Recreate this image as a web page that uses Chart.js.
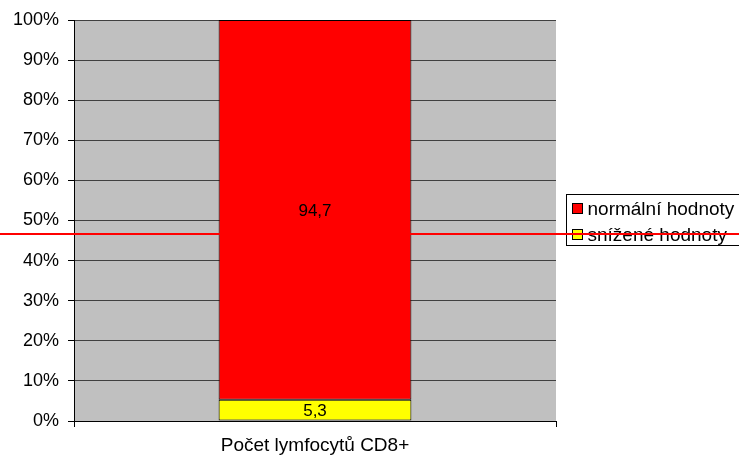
<!DOCTYPE html>
<html>
<head>
<meta charset="utf-8">
<script src="https://cdn.jsdelivr.net/npm/chart.js@4/dist/chart.umd.min.js"></script>
<style>
  html, body { margin: 0; padding: 0; background: #ffffff; }
  #wrap { width: 739px; height: 457px; position: relative; }
</style>
</head>
<body>
<div id="wrap"><canvas id="c" width="739" height="457"></canvas></div>
<script>
// Share of CD8+ lymphocyte counts, as a 100% stacked column
const categories = ['Počet lymfocytů CD8+'];
const seriesNames = ['snížené hodnoty', 'normální hodnoty'];
const lowValues = [5.3];
const normalValues = [94.7];
const seriesColors = ['#FFFF00', '#FF0000'];
const yTicks = [0, 10, 20, 30, 40, 50, 60, 70, 80, 90, 100];
const markerLevel = [46.6];

const FONT = 'Arial, "Liberation Sans", sans-serif';

// gray plot background
const plotBackground = {
  id: 'plotBackground',
  beforeDraw(chart) {
    const { ctx, chartArea: a } = chart;
    ctx.save();
    ctx.fillStyle = '#C0C0C0';
    ctx.fillRect(a.left, a.top, a.right - a.left, a.bottom - a.top);
    ctx.restore();
  }
};

// value labels centred in each segment
const segmentLabels = {
  id: 'segmentLabels',
  afterDatasetsDraw(chart) {
    const { ctx } = chart;
    ctx.save();
    ctx.font = '17px ' + FONT;
    ctx.fillStyle = '#000000';
    ctx.textAlign = 'center';
    ctx.textBaseline = 'middle';
    chart.data.datasets.forEach((ds, i) => {
      chart.getDatasetMeta(i).data.forEach((bar, j) => {
        const y = (bar.y + bar.base) / 2;
        ctx.fillText(String(ds.data[j]).replace('.', ','), bar.x, y + 1);
      });
    });
    ctx.restore();
  }
};

// horizontal red reference line across the page
const markerLine = {
  id: 'markerLine',
  afterDraw(chart) {
    const { ctx } = chart;
    const y = Math.round(chart.scales.y.getPixelForValue(markerLevel[0]));
    ctx.save();
    ctx.strokeStyle = '#FF0000';
    ctx.lineWidth = 2;
    ctx.beginPath();
    ctx.moveTo(0, y);
    ctx.lineTo(chart.width, y);
    ctx.stroke();
    ctx.restore();
  }
};

// boxed legend on the right, normal values first
const boxLegend = {
  id: 'boxLegend',
  afterDatasetsDraw(chart) {
    const { ctx } = chart;
    const x0 = 566.5, y0 = 194.5, w = 180, h = 51;
    ctx.save();
    ctx.fillStyle = '#ffffff';
    ctx.fillRect(x0, y0, w, h);
    ctx.strokeStyle = '#000000';
    ctx.lineWidth = 1;
    ctx.strokeRect(x0, y0, w, h);
    ctx.font = '19px ' + FONT;
    ctx.textBaseline = 'middle';
    ctx.textAlign = 'left';
    const order = [1, 0];
    order.forEach((di, k) => {
      const ds = chart.data.datasets[di];
      const cy = 208.5 + k * 26;
      ctx.fillStyle = ds.backgroundColor;
      ctx.fillRect(x0 + 6, cy - 5, 10, 10);
      ctx.strokeStyle = '#000000';
      ctx.strokeRect(x0 + 6, cy - 5, 10, 10);
      ctx.fillStyle = '#000000';
      ctx.fillText(ds.label, x0 + 21, cy + 1);
    });
    ctx.restore();
  }
};

new Chart(document.getElementById('c'), {
  type: 'bar',
  data: {
    labels: categories,
    datasets: [
      { label: seriesNames[0], data: lowValues, backgroundColor: seriesColors[0],
        borderColor: '#000000', borderWidth: 1, borderSkipped: false },
      { label: seriesNames[1], data: normalValues, backgroundColor: seriesColors[1],
        borderColor: '#000000', borderWidth: 1, borderSkipped: false }
    ]
  },
  options: {
    responsive: false,
    animation: false,
    layout: { padding: { top: 20, right: 183, left: 0, bottom: 0 } },
    datasets: { bar: { categoryPercentage: 1, barPercentage: 0.4 } },
    plugins: { legend: { display: false }, tooltip: { enabled: false } },
    scales: {
      x: {
        stacked: true,
        afterFit(s) { s.height = 36; },
        grid: { display: true, offset: true, drawOnChartArea: false, color: '#000000', tickLength: 6 },
        border: { color: '#000000' },
        ticks: { color: '#000000', font: { family: FONT, size: 19 }, padding: 7 }
      },
      y: {
        stacked: true,
        min: 0,
        max: 100,
        afterFit(s) { s.width = 74; },
        afterBuildTicks(s) { s.ticks = yTicks.map(v => ({ value: v })); },
        grid: { color: '#404040', tickLength: 6, tickColor: '#000000' },
        border: { color: '#000000' },
        ticks: { color: '#000000', font: { family: FONT, size: 18 }, padding: 9,
                 callback: v => v + '%' }
      }
    }
  },
  plugins: [plotBackground, segmentLabels, boxLegend, markerLine]
});
</script>
</body>
</html>
